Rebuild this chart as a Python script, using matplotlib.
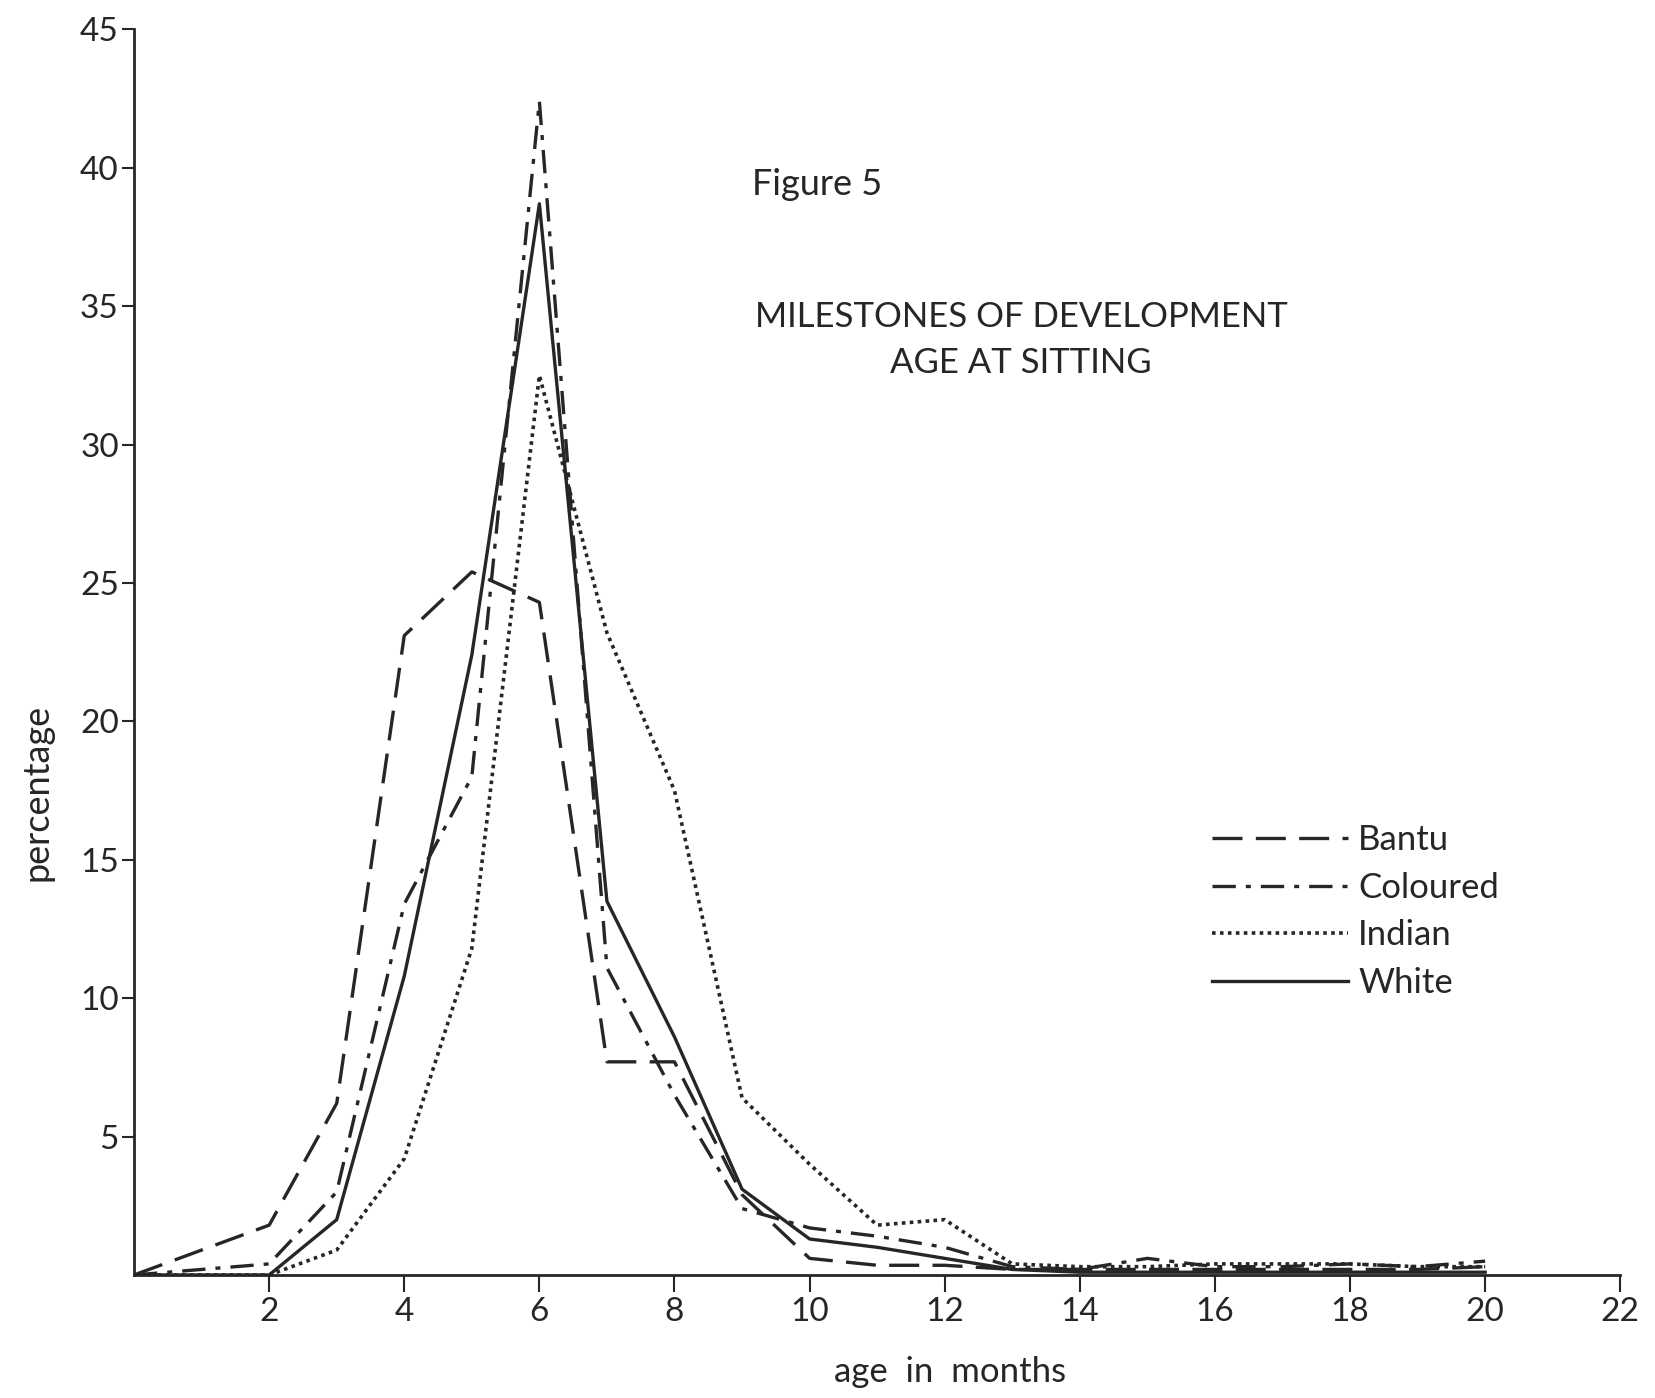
import matplotlib
matplotlib.use('Agg')
import matplotlib.pyplot as plt


# age in months (x axis)
ages = [0, 2, 3, 4, 5, 6, 7, 8, 9, 10, 11, 12, 13, 14, 15, 16, 17, 18, 19, 20]

# percentage per group
bantu = [0, 1.8, 6.2, 23.1, 25.4, 24.3, 7.7, 7.7, 2.9, 0.6, 0.35, 0.35, 0.2, 0.2, 0.2, 0.2, 0.2, 0.2, 0.2, 0.3]
coloured = [0, 0.4, 3.0, 13.4, 18.0, 42.4, 11.1, 6.5, 2.4, 1.7, 1.4, 1.0, 0.3, 0.2, 0.6, 0.3, 0.3, 0.4, 0.3, 0.5]
indian = [0, 0, 0.9, 4.2, 11.8, 32.5, 23.2, 17.5, 6.4, 4.0, 1.8, 2.0, 0.4, 0.3, 0.3, 0.4, 0.4, 0.4, 0.3, 0.3]
white = [0, 0, 2.0, 10.8, 22.4, 38.7, 13.5, 8.6, 3.1, 1.3, 1.0, 0.6, 0.2, 0.1, 0.1, 0.1, 0.1, 0.1, 0.1, 0.1]

xticks = [2, 4, 6, 8, 10, 12, 14, 16, 18, 20, 22]
yticks = [5, 10, 15, 20, 25, 30, 35, 40, 45]

INK = '#262626'
FONT = 'Lato'


def main():
	plt.rcParams['font.family'] = [FONT, 'DejaVu Sans']
	fig = plt.figure(figsize=(16.55, 13.98), dpi=100)
	ax = fig.add_axes([0.081, 0.088, 0.898, 0.891])

	# the four curves
	ax.plot(ages, bantu, color=INK, lw=2.4, dashes=(9, 4), label='Bantu')
	ax.plot(ages, coloured, color=INK, lw=2.4, dashes=(7, 3, 1.5, 3), label='Coloured')
	ax.plot(ages, indian, color=INK, lw=2.6, linestyle=(0, (1, 1.2)), label='Indian')
	ax.plot(ages, white, color=INK, lw=2.4, label='White')

	ax.set_xlim(0, 22)
	ax.set_ylim(0, 45)
	ax.spines['top'].set_visible(False)
	ax.spines['right'].set_visible(False)
	ax.spines['left'].set_color(INK)
	ax.spines['bottom'].set_color(INK)
	ax.spines['left'].set_linewidth(2)
	ax.spines['bottom'].set_linewidth(2)

	ax.set_xticks(xticks)
	ax.set_yticks(yticks)
	ax.tick_params(axis='both', colors=INK, labelsize=24, width=1.5)
	ax.tick_params(axis='x', length=12, pad=4)
	ax.tick_params(axis='y', length=9, pad=2)

	# legend at the right
	leg = ax.legend(loc='upper left', bbox_to_anchor=(0.7255, 0.362), frameon=False,
		fontsize=25, handlelength=3.9, handletextpad=0.3, labelspacing=0.45,
		borderpad=0, borderaxespad=0)
	for t in leg.get_texts():
		t.set_color(INK)

	# titles and axis labels
	fig.text(0.494, 0.868, 'Figure 5', ha='center', va='center', fontsize=26, color=INK)
	fig.text(0.617, 0.773, 'MILESTONES OF DEVELOPMENT', ha='center', va='center', fontsize=25, color=INK)
	fig.text(0.617, 0.740, 'AGE AT SITTING', ha='center', va='center', fontsize=25, color=INK)
	fig.text(0.0224, 0.4335, 'percentage', rotation=90, ha='center', va='center', fontsize=26, color=INK)
	fig.text(0.574, 0.0186, 'age  in  months', ha='center', va='center', fontsize=25, color=INK)

	fig.savefig('out.png', dpi=100, facecolor='white')


if __name__ == '__main__':
	main()
